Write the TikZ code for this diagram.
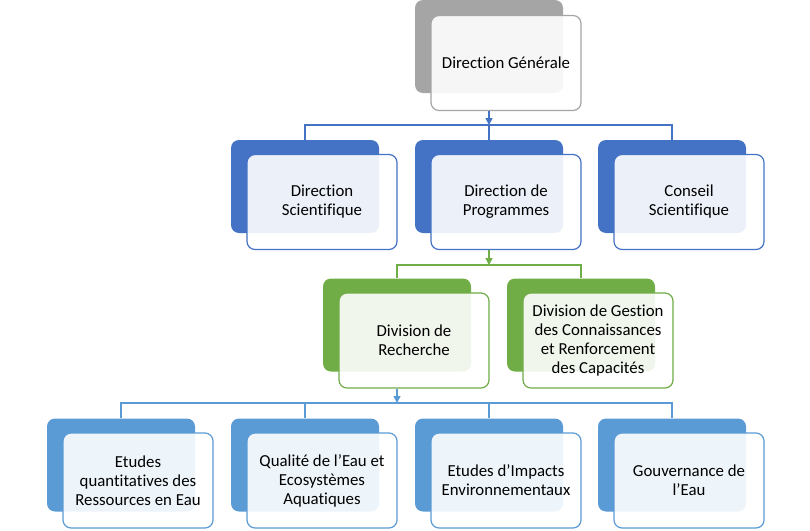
\documentclass[tikz,border=0pt]{standalone}
\usepackage{fontspec}
\setmainfont{Carlito}[Ligatures=NoCommon]
\usetikzlibrary{arrows.meta,positioning}
\definecolor{graybox}{HTML}{A5A5A5}
\definecolor{bluebox}{HTML}{4472C4}
\definecolor{greenbox}{HTML}{70AD47}
\definecolor{skybox}{HTML}{5B9BD5}
\tikzset{
  backbox/.style={rounded corners=8pt,minimum width=148pt,minimum height=93pt,inner sep=0pt},
  frontbox/.style={rounded corners=8pt,minimum width=150pt,minimum height=95pt,fill=white,
    fill opacity=0.9,text opacity=1,line width=1.2pt,align=center,
    font=\fontsize{16.8}{19}\selectfont,inner sep=2pt},
  link/.style={line width=1.5pt},
  arr/.style={link,-{Triangle[length=7pt,width=7pt]}},
}
\begin{document}
\begin{tikzpicture}[x=1pt,y=-1pt]
  \useasboundingbox (0,0) rectangle (810,530);
  % top
  \node[backbox,fill=graybox] (bdg) at (489,46.5) {};
  \node[frontbox,draw=graybox] (fdg) at (506,63) {Direction Générale};
  % directions
  \foreach \x/\nm/\lab in {305/ds/{Direction\\Scientifique},489/dp/{Direction de\\Programmes},672/cs/{Conseil\\Scientifique}}{
    \node[backbox,fill=bluebox] (b\nm) at (\x,186.5) {};
    \node[frontbox,draw=bluebox] (f\nm) at (\x+17,202) {\lab};
  }
  % divisions
  \foreach \x/\nm/\lab in {397/dr/{Division de\\Recherche},581/dgc/{Division de Gestion\\des Connaissances\\et Renforcement\\des Capacités}}{
    \node[backbox,fill=greenbox] (b\nm) at (\x,325) {};
    \node[frontbox,draw=greenbox] (f\nm) at (\x+17,340.5) {\lab};
  }
  % etudes
  \foreach \x/\nm/\lab in {121/eq/{Etudes\\quantitatives des\\Ressources en Eau},305/qe/{Qualité de l’Eau et\\Ecosystèmes\\Aquatiques},489/ei/{Etudes d’Impacts\\Environnementaux},672/ge/{Gouvernance de\\l’Eau}}{
    \node[backbox,fill=skybox] (b\nm) at (\x,465) {};
    \node[frontbox,draw=skybox] (f\nm) at (\x+17,480.5) {\lab};
  }
  \coordinate (bar1) at (0,125);
  \coordinate (bar2) at (0,265);
  \coordinate (bar3) at (0,403);
  % connectors
  \draw[link,draw=bluebox] (bds.north) -- (bds |- bar1) -- (bcs |- bar1) -- (bcs.north);
  \draw[link,draw=bluebox] (bdp |- bar1) -- (bdp.north);
  \draw[arr,draw=bluebox] (fdg.south -| bdg) -- (bdg |- bar1);
  \draw[link,draw=greenbox] (bdr.north) -- (bdr |- bar2) -- (bdgc |- bar2) -- (bdgc.north);
  \draw[arr,draw=greenbox] (fdp.south -| bdp) -- (bdp |- bar2);
  \draw[link,draw=skybox] (beq.north) -- (beq |- bar3) -- (bge |- bar3) -- (bge.north);
  \draw[link,draw=skybox] (bqe |- bar3) -- (bqe.north);
  \draw[link,draw=skybox] (bei |- bar3) -- (bei.north);
  \draw[arr,draw=skybox] (fdr.south -| bdr) -- (bdr |- bar3);
\end{tikzpicture}
\end{document}
